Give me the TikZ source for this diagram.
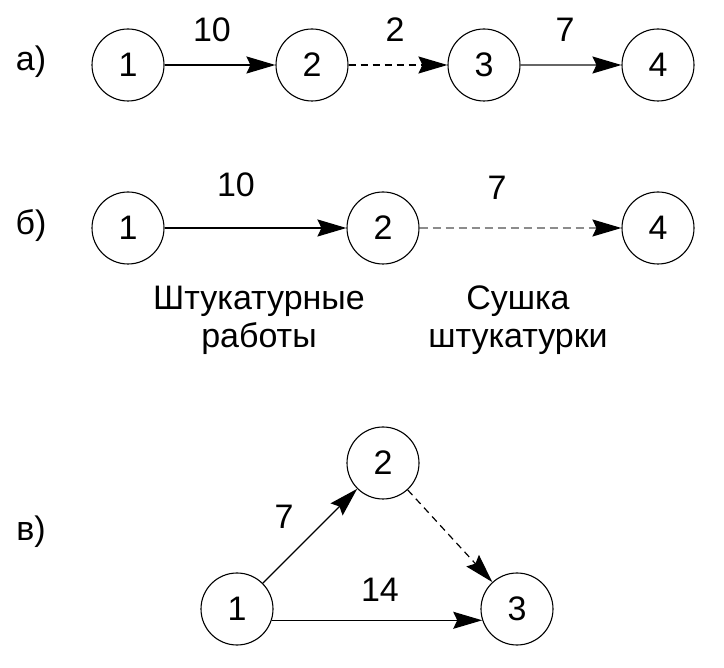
\documentclass[tikz,border=0pt]{standalone}
\usepackage{fontspec}
\setmainfont{Liberation Sans}
\usepackage{tikz}
\usetikzlibrary{arrows.meta}

\begin{document}
\begin{tikzpicture}[x=1pt,y=-1pt,
    event/.style={draw, circle, line width=1.1pt, minimum size=72pt, inner sep=0pt, font=\fontsize{34}{38}\selectfont},
    lbl/.style={font=\fontsize{34}{38}\selectfont},
    work/.style={line width=1.8pt, -{Stealth[length=29pt,width=17pt,inset=4pt,color=black]}}]
         \useasboundingbox[fill=white] (0,0) rectangle (724,668);
         % a)
         \node[lbl] (la) at (31,62) {а)};
         \node[event] (a1) at (128,65) {1};
         \node[event] (a2) at (312,65) {2};
         \node[event] (a3) at (484,65) {3};
         \node[event] (a4) at (658,65) {4};
         \draw[work] (a1) -- (a2);
         \draw[work, line width=1.4pt, dash pattern=on 7pt off 5pt] (a2) -- (a3);
         \draw[work, line width=1.4pt, draw=black!60] (a3) -- (a4);
         \node[lbl] (ta12) at (212,30) {10};
         \node[lbl] (ta23) at (395,30) {2};
         \node[lbl] (ta34) at (565,30) {7};
         % б)
         \node[lbl] (lb) at (31,226) {б)};
         \node[event] (b1) at (128,228) {1};
         \node[event] (b2) at (383,228) {2};
         \node[event] (b4) at (658,228) {4};
         \draw[work] (b1) -- (b2);
         \draw[work, line width=1.6pt, draw=black!45, dash pattern=on 8pt off 5pt] (b2) -- (b4);
         \node[lbl] (tb12) at (236,185) {10};
         \node[lbl] (tb24) at (497,188) {7};
         \node[lbl, align=center] (wb12) at (259,320) {Штукатурные\\работы};
         \node[lbl, align=center] (wb24) at (518,320) {Сушка\\штукатурки};
         % в)
         \node[lbl] (lc) at (31,532) {в)};
         \node[event] (c1) at (237,609) {1};
         \node[event] (c2) at (383,463) {2};
         \node[event] (c3) at (517,609) {3};
         \draw[work, line width=1.4pt] (c1) -- (c2);
         \draw[work, line width=1.2pt, dash pattern=on 7pt off 5pt] (c2) -- (c3);
         \draw[work, line width=1.4pt] (c1.-18) -- (c3.198);
         \node[lbl] (tc12) at (284,517) {7};
         \node[lbl] (tc13) at (380,590) {14};
    \end{tikzpicture}
\end{document}
